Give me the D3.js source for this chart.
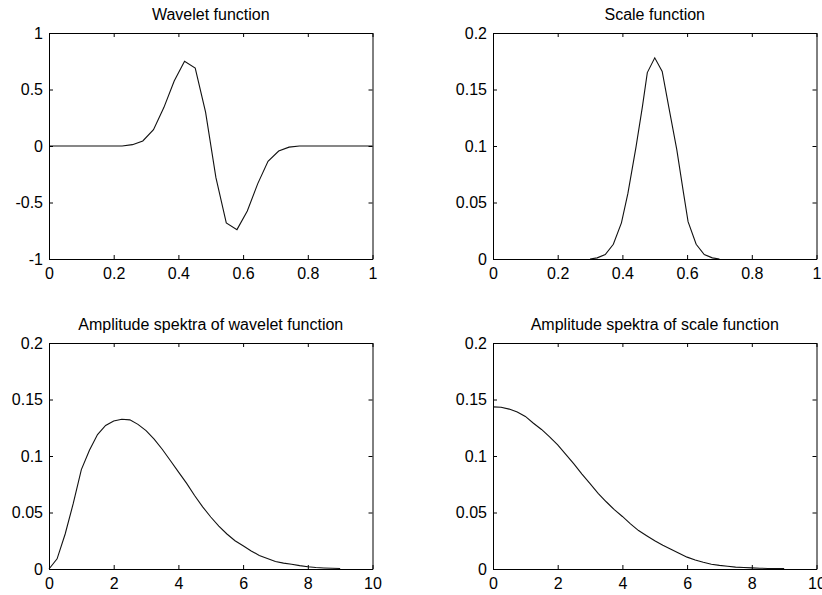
<!DOCTYPE html>
<html><head><meta charset="utf-8">
<script src="https://cdn.jsdelivr.net/npm/d3@7"></script>
<style>
body{margin:0;background:#fff}
svg{display:block}
text{font-family:"Liberation Sans",Arial,sans-serif;fill:#000}
</style>
</head><body>
<svg id="c" width="822" height="595"></svg>
<script>
// ---- Data ----
const titles = ["Wavelet function", "Scale function", "Amplitude spektra of wavelet function", "Amplitude spektra of scale function"];

const waveletX = [0, 0.226, 0.258, 0.290, 0.323, 0.355, 0.387, 0.419, 0.452, 0.484, 0.516, 0.548, 0.581, 0.613, 0.645, 0.677, 0.710, 0.742, 0.774, 1];
const waveletY = [0, 0, 0.012, 0.045, 0.145, 0.34, 0.575, 0.75, 0.69, 0.30, -0.28, -0.68, -0.74, -0.575, -0.335, -0.135, -0.045, -0.01, 0, 0];

const scaleX = [0.30, 0.322, 0.347, 0.372, 0.397, 0.417, 0.442, 0.462, 0.477, 0.500, 0.523, 0.543, 0.568, 0.588, 0.603, 0.628, 0.653, 0.678, 0.70];
const scaleY = [0, 0.001, 0.004, 0.013, 0.032, 0.058, 0.099, 0.135, 0.165, 0.178, 0.166, 0.135, 0.097, 0.060, 0.033, 0.013, 0.004, 0.001, 0];

const freqX = [0, 0.25, 0.5, 0.75, 1.0, 1.25, 1.5, 1.75, 2.0, 2.25, 2.5, 2.75, 3.0, 3.25, 3.5, 3.75, 4.0, 4.25, 4.5, 4.75, 5.0, 5.25, 5.5, 5.75, 6.0, 6.25, 6.5, 6.75, 7.0, 7.25, 7.5, 7.75, 8.0, 8.25, 8.5, 8.75, 9.0];
const waveletSpecY = [0, 0.009, 0.031, 0.058, 0.088, 0.105, 0.119, 0.127, 0.131, 0.1325, 0.132, 0.128, 0.1225, 0.115, 0.106, 0.096, 0.086, 0.076, 0.065, 0.055, 0.046, 0.038, 0.031, 0.025, 0.0205, 0.016, 0.012, 0.0093, 0.0066, 0.0052, 0.0042, 0.003, 0.002, 0.0013, 0.0009, 0.0006, 0.0004];
const scaleSpecY = [0.1435, 0.1432, 0.1415, 0.139, 0.135, 0.129, 0.1235, 0.117, 0.1098, 0.1015, 0.093, 0.084, 0.0755, 0.067, 0.0595, 0.0525, 0.0465, 0.040, 0.034, 0.0295, 0.025, 0.021, 0.0175, 0.0140, 0.0105, 0.008, 0.006, 0.0042, 0.0032, 0.0024, 0.0017, 0.0013, 0.001, 0.0007, 0.0005, 0.0004, 0.0003];

const xTicksUnit = [0, 0.2, 0.4, 0.6, 0.8, 1];
const xTickLabelsUnit = ["0", "0.2", "0.4", "0.6", "0.8", "1"];
const xTicksFreq = [0, 2, 4, 6, 8, 10];
const xTickLabelsFreq = ["0", "2", "4", "6", "8", "10"];
const yTicksWavelet = [-1, -0.5, 0, 0.5, 1];
const yTickLabelsWavelet = ["-1", "-0.5", "0", "0.5", "1"];
const yTicksSmall = [0, 0.05, 0.1, 0.15, 0.2];
const yTickLabelsSmall = ["0", "0.05", "0.1", "0.15", "0.2"];

// ---- Layout ----
const panelLeft = [49, 493], panelTop = [33, 343];
const PW = 323.5, PH = 226, TICK = 4, FS = 16, TFS = 16;

const svg = d3.select("#c");

const panels = [
  {title: titles[0], col: 0, row: 0, xd: [0, 1], yd: [-1, 1], xs: waveletX, ys: waveletY, xt: xTicksUnit, xl: xTickLabelsUnit, yt: yTicksWavelet, yl: yTickLabelsWavelet},
  {title: titles[1], col: 1, row: 0, xd: [0, 1], yd: [0, 0.2], xs: scaleX, ys: scaleY, xt: xTicksUnit, xl: xTickLabelsUnit, yt: yTicksSmall, yl: yTickLabelsSmall},
  {title: titles[2], col: 0, row: 1, xd: [0, 10], yd: [0, 0.2], xs: freqX, ys: waveletSpecY, xt: xTicksFreq, xl: xTickLabelsFreq, yt: yTicksSmall, yl: yTickLabelsSmall},
  {title: titles[3], col: 1, row: 1, xd: [0, 10], yd: [0, 0.2], xs: freqX, ys: scaleSpecY, xt: xTicksFreq, xl: xTickLabelsFreq, yt: yTicksSmall, yl: yTickLabelsSmall}
];

panels.forEach(p => {
  const g = svg.append("g").attr("transform", `translate(${panelLeft[p.col]},${panelTop[p.row]})`);
  const x = d3.scaleLinear().domain(p.xd).range([0, PW]);
  const y = d3.scaleLinear().domain(p.yd).range([PH, 0]);

  // curve
  const pts = p.xs.map((v, i) => [v, p.ys[i]]);
  g.append("path").datum(pts)
    .attr("fill", "none").attr("stroke", "#111").attr("stroke-width", 1.1)
    .attr("d", d3.line().x(d => x(d[0])).y(d => y(d[1])));

  // axes (box with inward ticks)
  const fmtX = (d, i) => p.xl[i];
  const fmtY = (d, i) => p.yl[i];
  const bottom = g.append("g").attr("transform", `translate(0,${PH})`)
    .call(d3.axisBottom(x).tickValues(p.xt).tickFormat(fmtX).tickSizeInner(-TICK).tickSizeOuter(0).tickPadding(8.5));
  const top = g.append("g")
    .call(d3.axisTop(x).tickValues(p.xt).tickFormat("").tickSizeInner(-TICK).tickSizeOuter(0));
  const left = g.append("g")
    .call(d3.axisLeft(y).tickValues(p.yt).tickFormat(fmtY).tickSizeInner(-TICK).tickSizeOuter(0).tickPadding(6));
  const right = g.append("g").attr("transform", `translate(${PW},0)`)
    .call(d3.axisRight(y).tickValues(p.yt).tickFormat("").tickSizeInner(-TICK).tickSizeOuter(0));

  [bottom, top, left, right].forEach(a => {
    a.selectAll("path.domain").attr("stroke", "#000");
    a.selectAll("line").attr("stroke", "#000");
    a.selectAll("text").style("font-size", FS + "px").style("font-family", '"Liberation Sans",Arial,sans-serif').attr("fill", "#000");
  });

  g.append("text")
    .attr("x", PW / 2).attr("y", -13)
    .attr("text-anchor", "middle")
    .style("font-size", TFS + "px")
    .text(p.title);
});
</script>
</body></html>
